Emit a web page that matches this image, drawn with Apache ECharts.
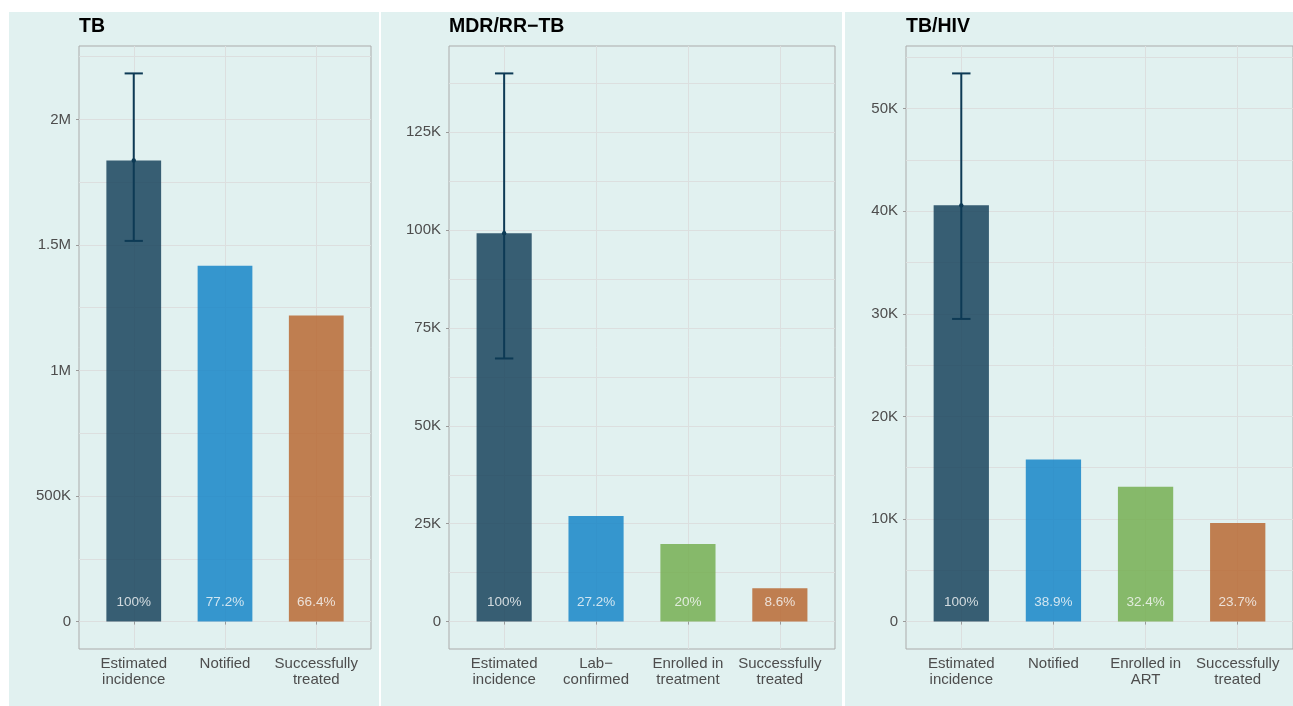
<!DOCTYPE html>
<html>
<head>
<meta charset="utf-8">
<script src="https://cdn.jsdelivr.net/npm/echarts@6/dist/echarts.min.js"></script>
<style>
html,body{margin:0;padding:0;background:#ffffff;}
#chart{width:1293px;height:706px;}
</style>
</head>
<body>
<div id="chart"></div>
<script>
// ---------- data ----------
const panelTitles = ['TB', 'MDR/RR\u2212TB', 'TB/HIV'];

const tbCategories = ['Estimated\nincidence', 'Notified', 'Successfully\ntreated'];
const tbValues = [1836000, 1417000, 1219000];
const tbPctLabels = ['100%', '77.2%', '66.4%'];
const tbErrLow = 1516000;
const tbErrHigh = 2183000;
const tbTicks = [0, 500000, 1000000, 1500000, 2000000];
const tbMinorTicks = [250000, 750000, 1250000, 1750000, 2250000];

const mdrCategories = ['Estimated\nincidence', 'Lab\u2212\nconfirmed', 'Enrolled in\ntreatment', 'Successfully\ntreated'];
const mdrValues = [99200, 26980, 19840, 8530];
const mdrPctLabels = ['100%', '27.2%', '20%', '8.6%'];
const mdrErrLow = 67200;
const mdrErrHigh = 140000;
const mdrTicks = [0, 25000, 50000, 75000, 100000, 125000];
const mdrMinorTicks = [12500, 37500, 62500, 87500, 112500, 137500];

const hivCategories = ['Estimated\nincidence', 'Notified', 'Enrolled in\nART', 'Successfully\ntreated'];
const hivValues = [40570, 15800, 13140, 9610];
const hivPctLabels = ['100%', '38.9%', '32.4%', '23.7%'];
const hivErrLow = 29500;
const hivErrHigh = 53430;
const hivTicks = [0, 10000, 20000, 30000, 40000, 50000];
const hivMinorTicks = [5000, 15000, 25000, 35000, 45000, 55000];

// ---------- style ----------
const FONT = '"Liberation Sans", Arial, Helvetica, sans-serif';
const barColors = {
  'Estimated\nincidence': '#0d3954',
  'Notified': '#0a7fc6',
  'Lab\u2212\nconfirmed': '#0a7fc6',
  'Enrolled in\ntreatment': '#6fab48',
  'Enrolled in\nART': '#6fab48',
  'Successfully\ntreated': '#b66228'
};
const errColor = '#0d3a55';
const panelBg = '#e1f1f0';
const gridLineColor = '#dcdfdf';
const borderColor = '#ababab';
const labelColor = '#4d4d4d';

const panels = [
  {cats: tbCategories, vals: tbValues, pct: tbPctLabels, lo: tbErrLow, hi: tbErrHigh, ticks: tbTicks, minor: tbMinorTicks},
  {cats: mdrCategories, vals: mdrValues, pct: mdrPctLabels, lo: mdrErrLow, hi: mdrErrHigh, ticks: mdrTicks, minor: mdrMinorTicks},
  {cats: hivCategories, vals: hivValues, pct: hivPctLabels, lo: hivErrLow, hi: hivErrHigh, ticks: hivTicks, minor: hivMinorTicks}
];

// layout (pixels)
const gridBoxes = [
  {left: 79, top: 46, width: 292, height: 603},
  {left: 449, top: 46, width: 386, height: 603},
  {left: 906, top: 46, width: 393, height: 603}
];
const panelRects = [
  {x: 9, y: 12, width: 370, height: 694},
  {x: 381, y: 12, width: 461, height: 694},
  {x: 845, y: 12, width: 448, height: 694}
];

function fmtY(v) {
  if (v === 0) return '0';
  if (v >= 1e6) return (v / 1e6) + 'M';
  return (v / 1e3) + 'K';
}

const grid = [], xAxis = [], yAxis = [], series = [], title = [], graphic = [];

panels.forEach((p, i) => {
  const n = p.cats.length;
  const yMin = -0.05 * p.hi;
  const yMax = 1.05 * p.hi;
  const idx = p.cats.map((c, j) => j);

  graphic.push({type: 'rect', shape: panelRects[i], style: {fill: panelBg}, z: -10, silent: true});

  grid.push(Object.assign({show: true, borderColor: borderColor, borderWidth: 1, backgroundColor: 'transparent', containLabel: false}, gridBoxes[i]));

  title.push({
    text: panelTitles[i], left: gridBoxes[i].left, top: 17, padding: 0,
    textStyle: {fontFamily: FONT, fontSize: 19.5, fontWeight: 'bold', color: '#000000'}
  });

  xAxis.push({
    type: 'value', gridIndex: i, min: -0.6, max: n - 1 + 0.6,
    axisLine: {show: false},
    axisTick: {show: true, length: 3, lineStyle: {color: '#9a9a9a'}, customValues: idx},
    axisLabel: {
      customValues: idx, margin: 7, fontFamily: FONT, fontSize: 15, lineHeight: 16, color: labelColor,
      formatter: v => p.cats[Math.round(v)] || ''
    },
    splitLine: {show: true, lineStyle: {color: gridLineColor, width: 1}}
  });

  // primary y axis: gridlines (major + minor), labels at major
  yAxis.push({
    type: 'value', gridIndex: i, min: yMin, max: yMax,
    axisLine: {show: false},
    axisTick: {show: false, customValues: p.ticks.concat(p.minor).sort((a, b) => a - b)},
    axisLabel: {customValues: p.ticks, margin: 8, fontFamily: FONT, fontSize: 15, color: labelColor, formatter: fmtY},
    splitLine: {show: true, lineStyle: {color: gridLineColor, width: 1}}
  });

  const xi = i, yi = yAxis.length - 1;

  // secondary y axis: tick marks only
  yAxis.push({
    type: 'value', gridIndex: i, min: yMin, max: yMax, position: 'left',
    axisLine: {show: false},
    axisTick: {show: true, length: 3, lineStyle: {color: '#9a9a9a'}, customValues: p.ticks},
    axisLabel: {show: false},
    splitLine: {show: false}
  });

  series.push({
    type: 'bar', xAxisIndex: xi, yAxisIndex: yi, barWidth: '60%',
    data: p.vals.map((v, j) => ({value: [j, v], itemStyle: {color: barColors[p.cats[j]], opacity: 0.8}})),
    label: {
      show: true, position: 'insideBottom', distance: 12,
      fontFamily: FONT, fontSize: 13.5, color: '#f7f9f9',
      formatter: prm => p.pct[prm.dataIndex]
    },
    z: 2
  });

  series.push({
    type: 'custom', xAxisIndex: xi, yAxisIndex: yi,
    data: [[0, p.lo, p.hi, p.vals[0]]],
    encode: {x: 0, y: [1, 2, 3]},
    z: 5,
    renderItem: function (params, api) {
      const x = api.value(0);
      const pLo = api.coord([x, api.value(1)]);
      const pHi = api.coord([x, api.value(2)]);
      const pMid = api.coord([x, api.value(3)]);
      const half = api.size([0.1, 0])[0];
      const st = {stroke: errColor, lineWidth: 2};
      return {
        type: 'group',
        children: [
          {type: 'line', shape: {x1: pLo[0], y1: pLo[1], x2: pHi[0], y2: pHi[1]}, style: st},
          {type: 'line', shape: {x1: pLo[0] - half, y1: pLo[1], x2: pLo[0] + half, y2: pLo[1]}, style: st},
          {type: 'line', shape: {x1: pHi[0] - half, y1: pHi[1], x2: pHi[0] + half, y2: pHi[1]}, style: st},
          {type: 'circle', shape: {cx: pMid[0], cy: pMid[1], r: 2.2}, style: {fill: errColor}}
        ]
      };
    }
  });
});

const chart = echarts.init(document.getElementById('chart'), null, {renderer: 'canvas'});
chart.setOption({
  animation: false,
  backgroundColor: '#ffffff',
  textStyle: {fontFamily: FONT},
  graphic: graphic,
  title: title,
  grid: grid,
  xAxis: xAxis,
  yAxis: yAxis,
  series: series
});
</script>
</body>
</html>
